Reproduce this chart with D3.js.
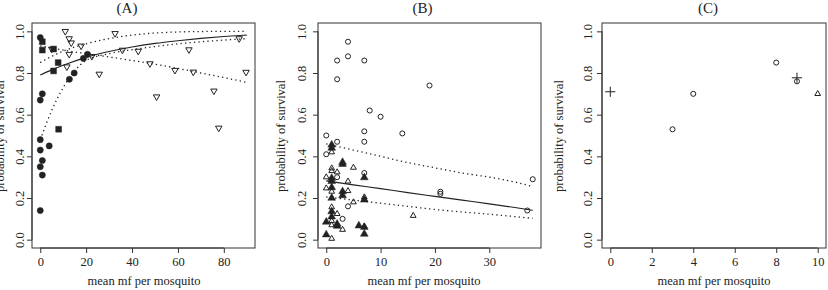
<!DOCTYPE html>
<html>
<head>
<meta charset="utf-8">
<script src="https://cdn.jsdelivr.net/npm/d3@7"></script>
<style>
  body { margin: 0; background: #fff; }
  svg { display: block; font-family: "Liberation Serif", "DejaVu Serif", serif; }
  svg text { font-family: "Liberation Serif", "DejaVu Serif", serif !important; fill: #222; }
</style>
</head>
<body>
<svg id="chart" width="828" height="290"></svg>
<script>
// ---- datos panel A ----
const aCircleX = [0, 0.9, 0, 0, 3.9, 0, 0.9, 0, 0.9, 0, 12.7, 14.8, 18.8, 20.6];
const aCircleY = [0.97, 0.70, 0.67, 0.48, 0.45, 0.43, 0.38, 0.35, 0.31, 0.14, 0.77, 0.80, 0.87, 0.89];
const aSquareX = [0.9, 0.9, 5.8, 7.8, 5.8, 8];
const aSquareY = [0.95, 0.91, 0.915, 0.85, 0.81, 0.53];
const aTriX = [10.9, 12.6, 13.5, 17.8, 32.6, 12.6, 5, 11.6, 22.5, 25.7, 35.8, 42.7, 47.8, 50.7, 58.7, 66.7, 64.8, 75.7, 77.8, 86.7, 89.7];
const aTriY = [1.0, 0.965, 0.945, 0.93, 0.99, 0.89, 0.915, 0.83, 0.88, 0.795, 0.91, 0.905, 0.845, 0.686, 0.813, 0.805, 0.912, 0.714, 0.536, 0.965, 0.804];
const aLineX = [0, 5, 10, 20, 30, 40, 50, 60, 70, 80, 90];
const aFitY = [0.79, 0.815, 0.837, 0.875, 0.903, 0.925, 0.942, 0.955, 0.966, 0.975, 0.982];
const aUpperY = [0.85, 0.88, 0.905, 0.94, 0.965, 0.982, 0.992, 0.997, 0.999, 1.0, 1.0];
const aLowerY = [0.48, 0.62, 0.73, 0.86, 0.893, 0.912, 0.927, 0.94, 0.95, 0.958, 0.965];
const aDecY = [0.93, 0.92, 0.91, 0.893, 0.877, 0.86, 0.842, 0.822, 0.80, 0.778, 0.755];

// ---- datos panel B ----
const bCircleX = [4, 4, 2, 7, 2, 19, 8, 10, 14, 7, 0, 7, 2, 0, 7, 2, 4, 3, 21, 21, 37, 38];
const bCircleY = [0.95, 0.88, 0.86, 0.86, 0.77, 0.74, 0.62, 0.59, 0.51, 0.52, 0.50, 0.47, 0.47, 0.41, 0.32, 0.30, 0.16, 0.10, 0.23, 0.22, 0.14, 0.29];
const bTriX = [1, 1, 1, 2, 0, 5, 4, 4, 0, 1, 5, 7, 7, 1, 2, 3, 1, 7, 16, 1, 1];
const bTriY = [0.42, 0.343, 0.33, 0.324, 0.30, 0.346, 0.28, 0.234, 0.247, 0.231, 0.18, 0.204, 0.195, 0.156, 0.124, 0.048, 0.005, 0.064, 0.115, 0.09, 0.07];
const bFillTriX = [1, 1, 3, 3, 1, 1, 1, 1, 3, 3, 7, 7, 0, 1, 1, 2, 2, 0, 6, 7, 7];
const bFillTriY = [0.455, 0.44, 0.372, 0.362, 0.295, 0.28, 0.25, 0.20, 0.231, 0.212, 0.298, 0.191, 0.085, 0.135, 0.11, 0.075, 0.065, 0.024, 0.067, 0.06, 0.027];
const bLineX = [0, 5, 10, 15, 20, 25, 30, 35, 38];
const bFitY = [0.282, 0.263, 0.245, 0.226, 0.208, 0.19, 0.172, 0.153, 0.141];
const bUpperY = [0.46, 0.43, 0.40, 0.37, 0.345, 0.32, 0.30, 0.275, 0.255];
const bLowerY = [0.205, 0.19, 0.175, 0.16, 0.145, 0.133, 0.122, 0.11, 0.102];

// ---- datos panel C ----
const cCircleX = [3, 4, 8, 9];
const cCircleY = [0.53, 0.70, 0.85, 0.76];
const cPlusX = [0, 9];
const cPlusY = [0.71, 0.777];
const cTriX = [10];
const cTriY = [0.70];

const yTicks = [0, 0.2, 0.4, 0.6, 0.8, 1.0];
const xLabel = "mean mf per mosquito";
const yLabel = "probability of survival";

const svg = d3.select("#chart");
const plotTop = 23, plotBottom = 248;
const ink = "#222";
const serif = "'Liberation Serif', 'DejaVu Serif', serif";

function zip(xs, ys) { return xs.map((x, i) => [x, ys[i]]); }

function panel(cfg) {
    const g = svg.append("g");
    const x = d3.scaleLinear().domain(cfg.xDomain).range([cfg.left, cfg.right]);
    const y = d3.scaleLinear().domain([-0.04, 1.04]).range([plotBottom, plotTop]);

    // Ejes
    const ax = g.append("g").attr("transform", `translate(0,${plotBottom})`)
        .call(d3.axisBottom(x).tickValues(cfg.xTicks).tickSize(5).tickSizeOuter(0).tickPadding(4))
        .attr("font-family", serif);
    ax.selectAll("text").attr("font-size", 12.5).attr("fill", ink);
    ax.select(".domain").attr("d", `M${x(cfg.xTicks[0])},0H${x(cfg.xTicks[cfg.xTicks.length - 1])}`);

    const ay = g.append("g").attr("transform", `translate(${cfg.left},0)`)
        .call(d3.axisLeft(y).tickValues(yTicks).tickSize(5).tickSizeOuter(0).tickFormat(d3.format(".1f")))
        .attr("font-family", serif);
    ay.selectAll("text")
        .attr("font-size", 12.5).attr("fill", ink)
        .attr("x", null).attr("dy", null)
        .attr("text-anchor", "middle")
        .attr("transform", `rotate(-90) translate(0,${-cfg.tickLab})`);
    ay.select(".domain").attr("d", `M0,${y(0)}V${y(1)}`);
    g.selectAll(".tick line").attr("stroke", "#333");
    g.selectAll(".domain").attr("stroke", "#333");

    // Caja
    g.append("rect")
        .attr("x", cfg.left).attr("y", plotTop)
        .attr("width", cfg.right - cfg.left).attr("height", plotBottom - plotTop)
        .attr("fill", "none").attr("stroke", "#333").attr("stroke-width", 1);

    // Textos
    g.append("text").attr("x", cfg.titleX).attr("y", 13).attr("text-anchor", "middle")
        .attr("font-family", serif).attr("font-size", 15).text(cfg.title);
    g.append("text").attr("x", cfg.xLabX).attr("y", 285).attr("text-anchor", "middle")
        .attr("font-family", serif).attr("font-size", 12.5).text(xLabel);
    g.append("text").attr("transform", `translate(${cfg.yLabX},136) rotate(-90)`)
        .attr("text-anchor", "middle").attr("font-family", serif).attr("font-size", 12.5).text(yLabel);

    // Lineas
    const line = d3.line().x(d => x(d[0])).y(d => y(d[1])).curve(d3.curveMonotoneX);
    (cfg.lines || []).forEach(l => {
        g.append("path").attr("d", line(zip(l.x, l.y)))
            .attr("fill", "none").attr("stroke", ink)
            .attr("stroke-width", l.dotted ? 1.3 : 1.1)
            .attr("stroke-dasharray", l.dotted ? "1.3,3.2" : null);
    });

    // Puntos
    (cfg.points || []).forEach(p => {
        const sym = d3.symbol().type(p.type).size(p.size);
        g.selectAll(null).data(zip(p.x, p.y)).join("path")
            .attr("d", sym)
            .attr("transform", d => `translate(${x(d[0])},${y(d[1])})` + (p.flip ? " rotate(180)" : ""))
            .attr("fill", p.filled ? ink : "none")
            .attr("stroke", ink)
            .attr("stroke-width", p.filled ? 0.5 : 1);
    });
}

panel({
    title: "(A)", titleX: 127, xLabX: 144, yLabX: 4, tickLab: 8,
    left: 32, right: 255, xDomain: [-3.6, 93.6], xTicks: [0, 20, 40, 60, 80],
    lines: [
        { x: aLineX, y: aFitY },
        { x: aLineX, y: aUpperY, dotted: true },
        { x: aLineX, y: aLowerY, dotted: true },
        { x: aLineX, y: aDecY, dotted: true }
    ],
    points: [
        { x: aTriX, y: aTriY, type: d3.symbolTriangle2, size: 30, flip: true },
        { x: aSquareX, y: aSquareY, type: d3.symbolSquare, size: 34, filled: true },
        { x: aCircleX, y: aCircleY, type: d3.symbolCircle, size: 30, filled: true }
    ]
});

panel({
    title: "(B)", titleX: 422.5, xLabX: 424, yLabX: 285, tickLab: 12,
    left: 318, right: 541, xDomain: [-1.52, 39.52], xTicks: [0, 10, 20, 30],
    lines: [
        { x: bLineX, y: bFitY },
        { x: bLineX, y: bUpperY, dotted: true },
        { x: bLineX, y: bLowerY, dotted: true }
    ],
    points: [
        { x: bCircleX, y: bCircleY, type: d3.symbolCircle, size: 20 },
        { x: bTriX, y: bTriY, type: d3.symbolTriangle2, size: 24 },
        { x: bFillTriX, y: bFillTriY, type: d3.symbolTriangle, size: 26, filled: true }
    ]
});

panel({
    title: "(C)", titleX: 708, xLabX: 714, yLabX: 563, tickLab: 10,
    left: 602, right: 826, xDomain: [-0.4, 10.4], xTicks: [0, 2, 4, 6, 8, 10],
    points: [
        { x: cCircleX, y: cCircleY, type: d3.symbolCircle, size: 20 },
        { x: cPlusX, y: cPlusY, type: d3.symbolPlus, size: 36 },
        { x: cTriX, y: cTriY, type: d3.symbolTriangle2, size: 24 }
    ]
});
</script>
</body>
</html>
